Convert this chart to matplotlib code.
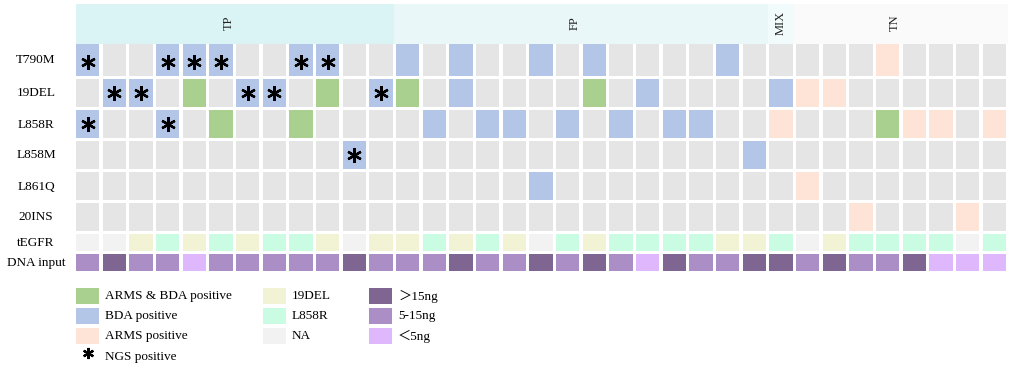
import matplotlib.pyplot as plt
from matplotlib.patches import Rectangle

# 各行的标签
row_labels = ['T790M', '19DEL', 'L858R', 'L858M', 'L861Q', '20INS', 'tEGFR', 'DNA input']

# 分组及列数
groups = ['TP', 'FP', 'MIX', 'TN']
group_sizes = [12, 14, 1, 8]

# 突变检测结果: g=阴性, B=BDA阳性, G=ARMS&BDA阳性, A=ARMS阳性
t790m = 'BggBBBggBBgg' + 'BgBggBgBggggBg' + 'g' + 'gggAgggg'
del19 = 'gBBgGgBBgGgB' + 'GgBggggGgBgggg' + 'B' + 'AAgggggg'
l858r = 'BggBgGggGggg' + 'gBgBBgBgBgBBgg' + 'A' + 'gggGAAgA'
l858m = 'ggggggggggBg' + 'gggggggggggggB' + 'g' + 'gggggggg'
l861q = 'gggggggggggg' + 'gggggBgggggggg' + 'g' + 'Aggggggg'
ins20 = 'gggggggggggg' + 'gggggggggggggg' + 'g' + 'ggAgggAg'
mut_rows = [t790m, del19, l858r, l858m, l861q, ins20]

# NGS阳性 (行, 列)
ngs_pos = [(0, 0), (0, 3), (0, 4), (0, 5), (0, 8), (0, 9),
           (1, 1), (1, 2), (1, 6), (1, 7), (1, 11),
           (2, 0), (2, 3),
           (3, 10)]

# tEGFR: Y=19DEL, M=L858R, N=NA
tegfr = 'NNYMYMYMMYNY' + 'YMYMYNMYMMMMYY' + 'M' + 'NYMMMMNM'
# DNA input: d=>15ng, m=5-15ng, l=<5ng
dna = 'mdmmlmmmmmdm' + 'mmdmmdmdmldmmd' + 'd' + 'mdmmdlll'

colors = {
    'g': '#e5e5e5', 'B': '#b3c6e7', 'G': '#aad08f', 'A': '#fde4d7',
    'Y': '#f2f2d5', 'M': '#c9fce2', 'N': '#f2f2f2',
    'd': '#7f6692', 'm': '#ab8ec6', 'l': '#deb7fd',
}
group_colors = ['#daf4f5', '#e9f7f8', '#f2fbfb', '#fafafa']

# 版面 (像素)
X0, PITCH, CW = 76, 26.667, 23.3
row_tops = [44, 79, 110, 141, 172, 203, 234, 254]
row_hts = [31.5, 28, 28, 28, 28, 28, 17, 17]
HEAD_TOP, HEAD_BOT = 4, 44

serif = ['Liberation Serif', 'Noto Sans CJK SC']

fig = plt.figure(figsize=(10.11, 3.67), dpi=100)
ax = fig.add_axes([0, 0, 1, 1])
ax.set_xlim(0, 1011)
ax.set_ylim(367, 0)
ax.axis('off')

# 分组表头
start = 0
for g, n, c in zip(groups, group_sizes, group_colors):
    x1 = X0 + start * PITCH - (1.7 if start else 0)
    x2 = X0 + (start + n) * PITCH - 1.7
    ax.add_patch(Rectangle((x1, HEAD_TOP), x2 - x1, HEAD_BOT - HEAD_TOP, color=c, lw=0))
    ax.text((x1 + x2) / 2 - (6 if n > 1 else 0), (HEAD_TOP + HEAD_BOT) / 2 - 1, g, rotation=90,
            ha='center', va='center', fontsize=9, family=serif, color='#222222')
    start += n

# 单元格
all_rows = mut_rows + [tegfr, dna]
for r, codes in enumerate(all_rows):
    for i, code in enumerate(codes):
        ax.add_patch(Rectangle((X0 + i * PITCH, row_tops[r]), CW, row_hts[r],
                               color=colors[code], lw=0))
    ax.text(36, row_tops[r] + row_hts[r] / 2 + 0.5, row_labels[r],
            ha='center', va='center', fontsize=9.5, family=serif)

# NGS 星号
for r, i in ngs_pos:
    ax.plot(X0 + i * PITCH + CW / 2, row_tops[r] + row_hts[r] / 2 + (2 if r == 0 else 0),
            marker=(6, 2, 0), ms=10.5, mew=1.7, color='black')

# 图例
legend_items = [
    [('G', 'ARMS & BDA positive'), ('B', 'BDA positive'), ('A', 'ARMS positive'), ('*', 'NGS positive')],
    [('Y', '19DEL'), ('M', 'L858R'), ('N', 'NA')],
    [('d', '＞15ng'), ('m', '5-15ng'), ('l', '＜5ng')],
]
leg_x = [76, 263, 369]
leg_y = [288, 308, 328, 348]
for col, items in enumerate(legend_items):
    for k, (code, label) in enumerate(items):
        y = leg_y[k]
        if code == '*':
            ax.plot(leg_x[col] + 11.5, y + 5, marker=(6, 2, 0), ms=8, mew=1.6, color='black')
            ax.text(leg_x[col] + 29, y + 9, label, ha='left', va='center', fontsize=9.5, family=serif)
        else:
            ax.add_patch(Rectangle((leg_x[col], y), 23, 16, color=colors[code], lw=0))
            ax.text(leg_x[col] + 29, y + 8, label, ha='left', va='center', fontsize=9.5, family=serif)

fig.savefig('out.png', dpi=100)
